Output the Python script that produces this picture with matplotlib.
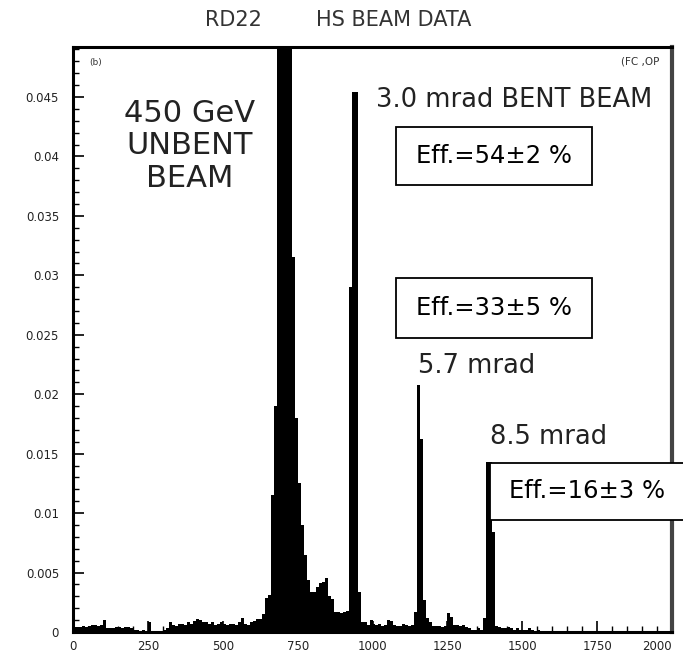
import numpy as np
import matplotlib
matplotlib.use("Agg")
import matplotlib.pyplot as plt
from matplotlib.ticker import MultipleLocator, FixedLocator, FixedFormatter
from matplotlib.patches import Rectangle

# ---- data (histogram, bin width 10 from 0 to 2000) ----
bin_edges = np.arange(0, 2010, 10)
counts_0_490 = [
    0.0004, 0.0004, 0.0004, 0.0005, 0.0004, 0.0005, 0.0006, 0.0006, 0.0005, 0.0006,
    0.0010, 0.0003, 0.0003, 0.0003, 0.0004, 0.0004, 0.0003, 0.0004, 0.0004, 0.0003,
    0.0002, 0.0002, 0.0001, 0.0002, 0.0001, 0.0008, 0.0001, 0.0001, 0.0001, 0.0001,
    0.0002, 0.0003, 0.0008, 0.0006, 0.0005, 0.0007, 0.0007, 0.0006, 0.0008, 0.0007,
    0.0009, 0.0011, 0.0010, 0.0008, 0.0008, 0.0007, 0.0008, 0.0006, 0.0007, 0.0008,
]
counts_500_990 = [
    0.0007, 0.0006, 0.0007, 0.0007, 0.0006, 0.0008, 0.0012, 0.0007, 0.0006, 0.0008,
    0.0009, 0.0011, 0.0011, 0.0015, 0.0029, 0.0031, 0.0115, 0.0190, 0.0800, 0.0800,
    0.0800, 0.0800, 0.0800, 0.0315, 0.0180, 0.0125, 0.0090, 0.0065, 0.0044, 0.0034,
    0.0034, 0.0038, 0.0041, 0.0042, 0.0045, 0.0030, 0.0028, 0.0017, 0.0017, 0.0016,
    0.0017, 0.0018, 0.0290, 0.0454, 0.0454, 0.0034, 0.0008, 0.0008, 0.0006, 0.0010,
]
counts_1000_1490 = [
    0.0007, 0.0006, 0.0007, 0.0005, 0.0006, 0.0010, 0.0009, 0.0006, 0.0005, 0.0005,
    0.0007, 0.0006, 0.0005, 0.0006, 0.0017, 0.0208, 0.0162, 0.0027, 0.0012, 0.0008,
    0.0005, 0.0005, 0.0005, 0.0004, 0.0005, 0.0016, 0.0013, 0.0006, 0.0006, 0.0005,
    0.0006, 0.0004, 0.0003, 0.0002, 0.0002, 0.0003, 0.0002, 0.0012, 0.0143, 0.0143,
    0.0084, 0.0005, 0.0004, 0.0003, 0.0003, 0.0004, 0.0003, 0.0002, 0.0003, 0.0002,
]
counts_1500_1990 = [
    0.0002, 0.0002, 0.0003, 0.0002, 0.0001, 0.0002, 0.0001, 0.0001, 0.0001, 0.0001,
    0.0001, 0.0000, 0.0001, 0.0000, 0.0000, 0.0000, 0.0000, 0.0000, 0.0000, 0.0000,
    0.0000, 0.0000, 0.0000, 0.0000, 0.0000, 0.0000, 0.0000, 0.0000, 0.0000, 0.0000,
    0.0000, 0.0000, 0.0000, 0.0000, 0.0000, 0.0000, 0.0000, 0.0000, 0.0000, 0.0000,
    0.0000, 0.0000, 0.0000, 0.0000, 0.0000, 0.0000, 0.0000, 0.0000, 0.0000, 0.0000,
]
counts = np.array(counts_0_490 + counts_500_990 + counts_1000_1490 + counts_1500_1990)

x_ticks = [0, 250, 500, 750, 1000, 1250, 1500, 1750, 2000]
x_ticklabels = ["0", "250", "500", "750", "1000", "1250", "1500", "1750", "2000"]
y_ticks = [0, 0.005, 0.01, 0.015, 0.02, 0.025, 0.03, 0.035, 0.04, 0.045]
y_ticklabels = ["0", "0.005", "0.01", "0.015", "0.02", "0.025", "0.03", "0.035", "0.04", "0.045"]

# ---- figure ----
W, H = 683, 657
fig = plt.figure(figsize=(W / 100, H / 100), dpi=100)
ax = fig.add_axes([73 / W, 1 - 632 / H, (672 - 73) / W, (632 - 47) / H])

ax.stairs(counts, bin_edges, fill=True, color="black", linewidth=0)
ax.set_xlim(0, 2000)
ax.set_ylim(0, 0.0492)

for s in ax.spines.values():
    s.set_linewidth(2.2)
    s.set_color("black")
ax.spines["right"].set_color("#444444")
ax.spines["right"].set_linewidth(3)

ax.xaxis.set_major_locator(FixedLocator(x_ticks))
ax.xaxis.set_major_formatter(FixedFormatter(x_ticklabels))
ax.xaxis.set_minor_locator(MultipleLocator(50))
ax.yaxis.set_major_locator(FixedLocator(y_ticks))
ax.yaxis.set_major_formatter(FixedFormatter(y_ticklabels))
ax.yaxis.set_minor_locator(MultipleLocator(0.001))
ax.tick_params(axis="both", which="major", direction="in", length=8, width=1.2,
               labelsize=8.5, labelcolor="#222222")
ax.tick_params(axis="both", which="minor", direction="in", length=4, width=1.0)
ax.tick_params(axis="y", which="major", pad=10)
ax.tick_params(axis="x", which="major", pad=6)
fig.canvas.draw()
ax.xaxis.get_major_ticks()[-1].label1.set_horizontalalignment("right")
ax.xaxis.get_major_ticks()[-1].label1.set_x(2000)

tf = dict(family="DejaVu Sans", color="#222222")
fig.text(233 / W, 1 - 20 / H, "RD22", ha="center", va="center", fontsize=15, color="#333333")
fig.text(394 / W, 1 - 20 / H, "HS BEAM DATA", ha="center", va="center", fontsize=15, color="#333333")
fig.text(96 / W, 1 - 62 / H, "(b)", ha="center", va="center", fontsize=6.5, color="#333333")
fig.text(640 / W, 1 - 62 / H, "(FC ,OP", ha="center", va="center", fontsize=7.5, color="#333333")

fig.text(190 / W, 1 - 146 / H, "450 GeV\nUNBENT\nBEAM", ha="center", va="center",
         fontsize=22, linespacing=1.15, **tf)
fig.text(514 / W, 1 - 100 / H, "3.0 mrad BENT BEAM", ha="center", va="center", fontsize=18.5, **tf)
fig.text(477 / W, 1 - 366 / H, "5.7 mrad", ha="center", va="center", fontsize=18.5, **tf)
fig.text(549 / W, 1 - 437 / H, "8.5 mrad", ha="center", va="center", fontsize=18.5, **tf)

# efficiency boxes (pixel corners: x0, y0, x1, y1) and text centre x
boxes = [((396, 127, 592, 185), 494, "Eff.=54\u00b12 %"),
         ((396, 278, 592, 338), 494, "Eff.=33\u00b15 %"),
         ((490, 463, 690, 520), 587, "Eff.=16\u00b13 %")]
for (x0, y0, x1, y1), cx, txt in boxes:
    r = Rectangle((x0 / W, 1 - y1 / H), (x1 - x0) / W, (y1 - y0) / H,
                  transform=fig.transFigure, facecolor="white", edgecolor="black",
                  linewidth=1.3, zorder=5)
    fig.add_artist(r)
    fig.text(cx / W, 1 - (y0 + y1) / 2 / H, txt, ha="center", va="center",
             fontsize=17.5, color="black", family="DejaVu Sans", zorder=6)

fig.savefig("out.png", dpi=100)
